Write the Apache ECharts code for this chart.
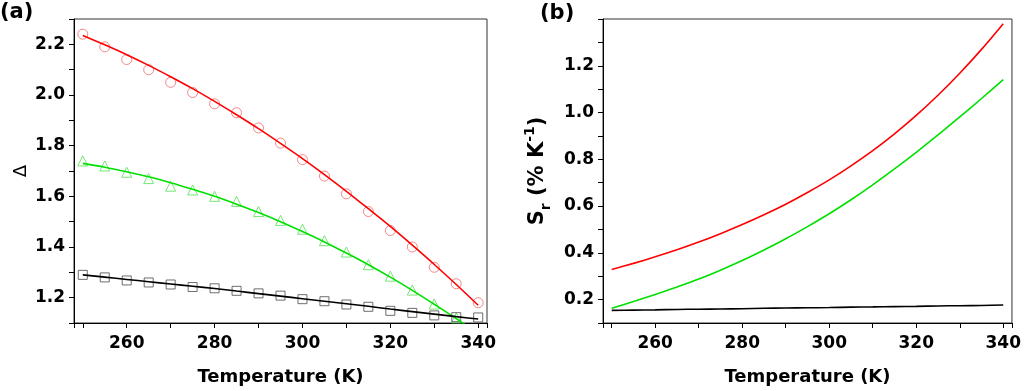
<!DOCTYPE html>
<html>
<head>
<meta charset="utf-8">
<script src="https://cdn.jsdelivr.net/npm/echarts@6/dist/echarts.min.js"></script>
<style>
html,body{margin:0;padding:0;background:#fff;}
#chart{width:1024px;height:391px;}
</style>
</head>
<body>
<div id="chart"></div>
<script>
// ---------- Data ----------
// Panel (a): measured Delta points (5 K steps)
const tempPts = [250,255,260,265,270,275,280,285,290,295,300,305,310,315,320,325,330,335,340];
const deltaRed = [2.24,2.19,2.14,2.10,2.05,2.01,1.965,1.93,1.87,1.81,1.745,1.68,1.61,1.54,1.465,1.40,1.32,1.255,1.18];
const tempGreenPts = [250,255,260,265,270,275,280,285,290,295,300,305,310,315,320,325,330,335];
const deltaGreen = [1.74,1.72,1.695,1.67,1.64,1.625,1.60,1.58,1.54,1.505,1.47,1.425,1.38,1.33,1.285,1.23,1.175,1.12];
const deltaBlack = [1.29,1.28,1.268,1.26,1.252,1.242,1.237,1.227,1.217,1.208,1.194,1.186,1.173,1.164,1.148,1.14,1.13,1.123,1.122];
// Panel (a): fit curves
const tempFit = [250,255,260,265,270,275,280,285,290,295,300,305,310,315,320,325,330,335,340];
const fitRed = [2.235,2.198,2.159,2.117,2.072,2.025,1.975,1.922,1.867,1.809,1.749,1.686,1.62,1.551,1.481,1.407,1.331,1.252,1.17];
const fitGreen = [1.73,1.715,1.697,1.677,1.654,1.628,1.60,1.569,1.536,1.50,1.461,1.42,1.376,1.33,1.281,1.229,1.174,1.117,1.058];
const fitBlack = [1.29,1.281,1.272,1.263,1.254,1.245,1.236,1.226,1.216,1.206,1.196,1.186,1.176,1.166,1.155,1.145,1.135,1.125,1.116];
// Panel (b): relative sensitivity Sr (% K-1)
const tempSr = [250,255,260,265,270,275,280,285,290,295,300,305,310,315,320,325,330,335,340];
const srRed = [0.329,0.355,0.383,0.413,0.446,0.482,0.521,0.563,0.608,0.658,0.712,0.772,0.837,0.909,0.988,1.074,1.168,1.270,1.380];
const srGreen = [0.163,0.192,0.222,0.254,0.288,0.326,0.367,0.412,0.460,0.512,0.567,0.627,0.691,0.759,0.830,0.904,0.981,1.060,1.141];
const srBlack = [0.154,0.155,0.156,0.158,0.159,0.160,0.161,0.163,0.164,0.165,0.166,0.168,0.169,0.170,0.171,0.173,0.174,0.175,0.177];
// Tick labels
const xTickLabels = [260,280,300,320,340];
const yTickLabelsA = ['1.2','1.4','1.6','1.8','2.0','2.2'];
const yTickLabelsB = ['0.2','0.4','0.6','0.8','1.0','1.2'];

// ---------- Helpers ----------
const FONT = 'DejaVu Sans';
const zip = (xs, ys) => ys.map((y, i) => [xs[i], y]);

function xAxisCfg(gridIndex) {
  return {
    gridIndex, type: 'value', min: 248, max: 342, splitNumber: 9,
    name: 'Temperature (K)', nameLocation: 'middle', nameGap: 45,
    nameTextStyle: {fontFamily: FONT, fontWeight: 'bold', fontSize: 18, color: '#000'},
    axisLine: {show: true, lineStyle: {color: '#000', width: 1}},
    axisTick: {show: true, length: 5, lineStyle: {color: '#000'}},
    axisLabel: {
      margin: 12, fontFamily: FONT, fontWeight: 'bold', fontSize: 17, color: '#000',
      formatter: v => xTickLabels.includes(Math.round(v)) && Math.abs(v - Math.round(v)) < 1e-6 ? String(Math.round(v)) : ''
    },
    splitLine: {show: false}
  };
}
function yAxisCfg(gridIndex, min, max, labels, name, nameGap, nameStyle) {
  return {
    gridIndex, type: 'value', min, max, interval: 0.1,
    name, nameLocation: 'middle', nameGap,
    nameTextStyle: nameStyle,
    axisLine: {show: true, lineStyle: {color: '#000', width: 1}},
    axisTick: {show: true, length: 5, lineStyle: {color: '#000'}},
    axisLabel: {
      margin: 9, fontFamily: FONT, fontWeight: 'bold', fontSize: 17, color: '#000',
      formatter: v => { const s = v.toFixed(1); return labels.includes(s) ? s : ''; }
    },
    splitLine: {show: false}
  };
}
function pts(name, xs, ys, gi, symbol, size, color) {
  return {
    name, type: 'scatter', xAxisIndex: gi, yAxisIndex: gi,
    data: zip(xs, ys), symbol, symbolSize: size, z: 3,
    itemStyle: {color: 'rgba(0,0,0,0)', borderColor: color, borderWidth: 1}
  };
}
function curve(name, xs, ys, gi, color) {
  return {
    name, type: 'line', xAxisIndex: gi, yAxisIndex: gi,
    data: zip(xs, ys), showSymbol: false, smooth: 0.3, clip: true, z: 4,
    lineStyle: {color, width: 1.6}
  };
}

const chart = echarts.init(document.getElementById('chart'), null, {renderer: 'canvas'});
chart.setOption({
  animation: false,
  backgroundColor: '#fff',
  title: [
    {text: '(a)', left: -5, top: -3, textStyle: {fontFamily: FONT, fontWeight: 'bold', fontSize: 21, color: '#000'}},
    {text: '(b)', left: 535, top: -2, textStyle: {fontFamily: FONT, fontWeight: 'bold', fontSize: 21, color: '#000'}}
  ],
  grid: [
    {left: 74, top: 19, width: 413, height: 307, show: true, borderColor: '#333', borderWidth: 1, backgroundColor: 'rgba(0,0,0,0)'},
    {left: 603, top: 19, width: 411, height: 307, show: true, borderColor: '#333', borderWidth: 1, backgroundColor: 'rgba(0,0,0,0)'}
  ],
  xAxis: [xAxisCfg(0), xAxisCfg(1)],
  yAxis: [
    yAxisCfg(0, 1.1, 2.3, yTickLabelsA, 'Δ', 44,
      {fontFamily: FONT, fontWeight: 'normal', fontSize: 18, color: '#000'}),
    yAxisCfg(1, 0.1, 1.4, yTickLabelsB, '{m|S}{s|r}{m| (% K}{p|-1}{m|)}', 50, {
      color: '#000',
      rich: {
        m: {fontFamily: FONT, fontWeight: 'bold', fontSize: 21, lineHeight: 30, verticalAlign: 'middle', color: '#000'},
        s: {fontFamily: FONT, fontWeight: 'bold', fontSize: 14, lineHeight: 14, verticalAlign: 'bottom', color: '#000'},
        p: {fontFamily: FONT, fontWeight: 'bold', fontSize: 14, lineHeight: 14, verticalAlign: 'top', color: '#000'}
      }
    })
  ],
  series: [
    curve('fit red', tempFit, fitRed, 0, '#ff0000'),
    curve('fit green', tempFit, fitGreen, 0, '#00e000'),
    curve('fit black', tempFit, fitBlack, 0, '#000000'),
    pts('Delta red', tempPts, deltaRed, 0, 'circle', 10, '#f06a6a'),
    pts('Delta green', tempGreenPts, deltaGreen, 0, 'triangle', 10, '#55e055'),
    pts('Delta black', tempPts, deltaBlack, 0, 'rect', 9, '#4a4a4a'),
    curve('Sr red', tempSr, srRed, 1, '#ff0000'),
    curve('Sr green', tempSr, srGreen, 1, '#00e000'),
    curve('Sr black', tempSr, srBlack, 1, '#000000')
  ]
});
</script>
</body>
</html>
